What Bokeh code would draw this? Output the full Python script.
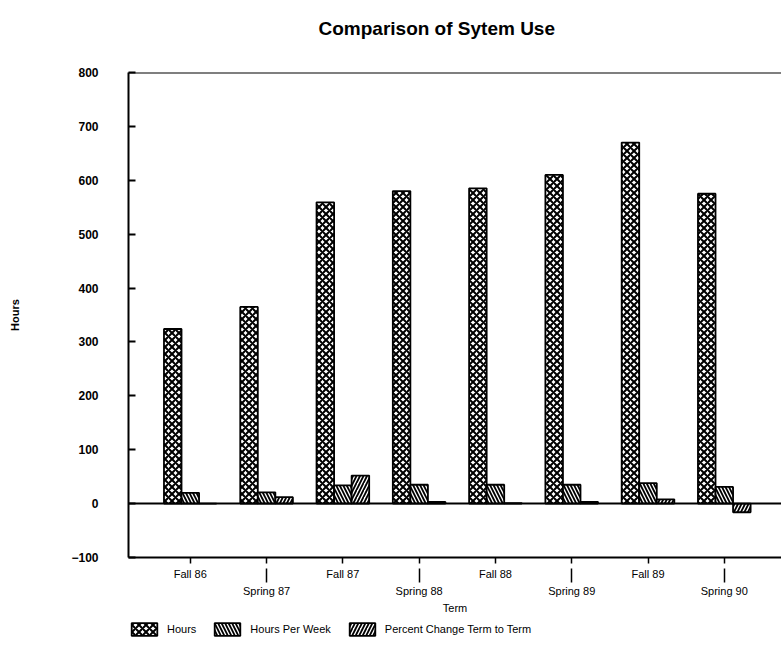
from bokeh.plotting import figure
from bokeh.layouts import column
from bokeh.models import (Range1d, FixedTicker, LinearAxis, Legend, LegendItem,
                          Span, ColumnDataSource, Title)
from bokeh.transform import dodge
from bokeh.embed import file_html
from bokeh.resources import INLINE

# ---- data ----
terms = ["Fall 86", "Spring 87", "Fall 87", "Spring 88",
         "Fall 88", "Spring 89", "Fall 89", "Spring 90"]
hours = [324, 365, 559, 580, 585, 610, 670, 575]
hours_per_week = [20, 21, 34, 35, 35, 35, 38, 31]
percent_change = [0, 12, 52, 3, 1, 3, 8, -16]
series_names = ["Hours", "Hours Per Week", "Percent Change Term to Term"]

pos = list(range(len(terms)))
src = ColumnDataSource(dict(x=pos, hours=hours, hpw=hours_per_week, pc=percent_change))
cols = ["hours", "hpw", "pc"]

FONT = "Liberation Sans"
p = figure(width=781, height=616, x_range=Range1d(-0.81, 7.75), y_range=Range1d(-100, 800),
           output_backend="svg", toolbar_location=None,
           min_border_left=128, min_border_right=0, min_border_top=72, min_border_bottom=0)
p.outline_line_color = None
p.xgrid.visible = False
p.ygrid.visible = False

p.add_layout(Title(text=" ", text_font_size="15px"), "above")
p.add_layout(Title(text="Comparison of Sytem Use", text_font=FONT, text_font_size="19px",
                   text_font_style="bold", text_color="black", align="left", offset=190),
             "above")

bw = 0.23
offsets = [-bw, 0, bw]
styles = [dict(hatch_pattern="diagonal_cross", hatch_scale=7, hatch_weight=2),
          dict(hatch_pattern="left_diagonal_line", hatch_scale=7, hatch_weight=1.8),
          dict(hatch_pattern="right_diagonal_line", hatch_scale=7, hatch_weight=1.8)]
common = dict(width=bw, fill_color="white", line_color="black", line_width=1.8,
              hatch_color="black")
for c, off, st in zip(cols, offsets, styles):
    p.vbar(x=dodge("x", off, range=p.x_range), top=c, bottom=0, source=src, **st, **common)

# zero line and top border
p.add_layout(Span(location=0, dimension="width", line_color="black", line_width=2))
p.add_layout(Span(location=800, dimension="width", line_color="black", line_width=2))

# y axis
ya = p.yaxis[0]
ya.ticker = FixedTicker(ticks=list(range(-100, 801, 100)), minor_ticks=[])
ya.axis_line_width = 2
ya.major_tick_in = 7
ya.major_tick_out = 0
ya.major_tick_line_width = 2
ya.major_label_standoff = 30
ya.major_label_text_font = FONT
ya.major_label_text_font_size = "12px"
ya.major_label_text_font_style = "bold"
ya.major_label_text_color = "black"
ya.axis_label = "Hours"
ya.axis_label_text_font = FONT
ya.axis_label_text_font_size = "11px"
ya.axis_label_text_font_style = "bold"
ya.axis_label_text_color = "black"
ya.axis_label_standoff = 47

spring_pos = [i for i in pos if i % 2 == 1]

# x axis 1: short ticks at every term, Fall labels
xa = p.xaxis[0]
xa.ticker = FixedTicker(ticks=pos, minor_ticks=[])
xa.major_label_overrides = {i: (terms[i] if i % 2 == 0 else "") for i in pos}
xa.axis_line_width = 2
xa.major_tick_in = 0
xa.major_tick_out = 6
xa.major_tick_line_width = 1.5
xa.major_label_standoff = 4
xa.major_label_text_font = FONT
xa.major_label_text_font_size = "11px"
xa.major_label_text_color = "black"

# x axis 2: long separator ticks and Spring labels + Term
xa2 = LinearAxis(ticker=FixedTicker(ticks=spring_pos, minor_ticks=[]),
                 major_label_overrides={i: terms[i] for i in spring_pos})
xa2.axis_line_color = None
xa2.major_tick_line_color = "black"
xa2.major_tick_line_width = 1.5
xa2.major_tick_in = 14
xa2.major_tick_out = 0
xa2.major_label_standoff = 2
xa2.major_label_text_font = FONT
xa2.major_label_text_font_size = "11px"
xa2.major_label_text_color = "black"
xa2.axis_label = "Term"
xa2.axis_label_standoff = 2
xa2.axis_label_text_font = FONT
xa2.axis_label_text_font_size = "11px"
xa2.axis_label_text_font_style = "normal"
xa2.axis_label_text_color = "black"
p.add_layout(xa2, "below")

# legend strip as its own small figure; its renderers are hidden, only swatches show
lf = figure(width=781, height=31, x_range=Range1d(-0.81, 7.75), y_range=Range1d(-100, 800),
            output_backend="svg", toolbar_location=None, min_border=0,
            x_axis_location=None, y_axis_location=None)
lf.outline_line_color = None
lf.grid.visible = False
items = []
for name, c, st in zip(series_names, cols, styles):
    rr = lf.vbar(x="x", top=c, bottom=0, source=src, visible=False, **st, **common)
    items.append(LegendItem(label=name, renderers=[rr]))
legend = Legend(items=items, orientation="horizontal", location=(0, 10),
                glyph_width=32, glyph_height=16, label_standoff=7, spacing=15,
                padding=2, margin=0, border_line_color=None, background_fill_alpha=0,
                label_text_font=FONT, label_text_font_size="11px",
                label_text_color="black")
lf.add_layout(legend)

layout = column(p, lf, spacing=0)
open("out.html", "w").write(file_html(layout, INLINE))
